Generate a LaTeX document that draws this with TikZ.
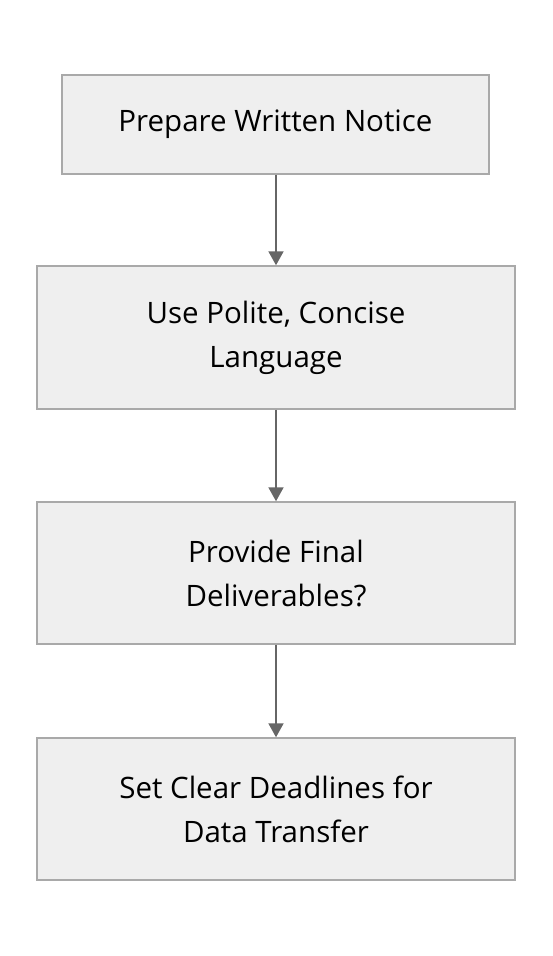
\documentclass[tikz,border=0pt]{standalone}
\usepackage{fontspec}
\setmainfont{Open Sans}
\usetikzlibrary{arrows.meta}
\begin{document}
\begin{tikzpicture}[x=1pt,y=-1pt,
  box/.style={draw=boxline, fill=boxfill, line width=1.5pt, inner sep=0pt, align=center,
    font=\fontsize{29.5}{44}\selectfont, text=black},
  conn/.style={draw=arrowcol, line width=2pt, -{Triangle[width=15pt,length=14pt]}}]
\definecolor{boxline}{HTML}{A9A9A9}
\definecolor{boxfill}{HTML}{EFEFEF}
\definecolor{arrowcol}{HTML}{666666}
\useasboundingbox[fill=white] (0,0) rectangle (552,956);
\node[box, minimum width=427pt, minimum height=99pt] (n1) at (275.5,124.5) {Prepare Written Notice};
\node[box, minimum width=478pt, minimum height=143pt] (n2) at (276,337.5) {Use Polite, Concise\\Language};
\node[box, minimum width=478pt, minimum height=142pt] (n3) at (276,573) {Provide Final\\Deliverables?};
\node[box, minimum width=478pt, minimum height=142pt] (n4) at (276,809) {Set Clear Deadlines for\\Data Transfer};
\draw[conn] (n1.south -| 276,0) -- (n2.north -| 276,0);
\draw[conn] (n2.south) -- (n3.north);
\draw[conn] (n3.south) -- (n4.north);
\end{tikzpicture}
\end{document}
